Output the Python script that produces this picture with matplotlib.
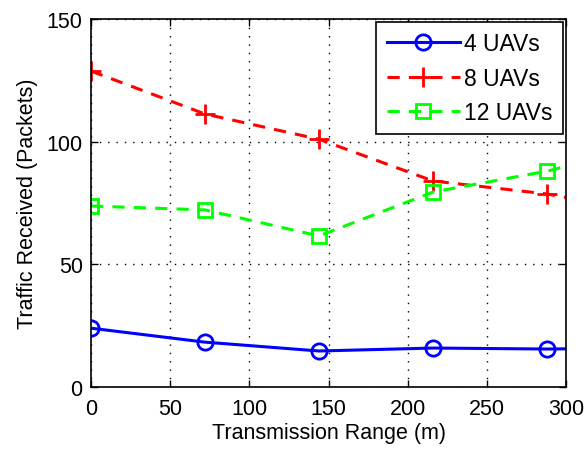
import numpy as np
import matplotlib

matplotlib.use("Agg")
import matplotlib.pyplot as plt

# ----------------------------------------------------------------------
# data
# ----------------------------------------------------------------------
tx_range = [0, 72, 144, 216, 288, 360]
uav4 = [24.0, 18.3, 14.7, 15.9, 15.5, 16.0]
uav8 = [128.8, 111.3, 101.0, 84.0, 78.7, 70.0]
uav12 = [73.8, 72.2, 61.6, 79.5, 88.0, 100.0]
labels = ["4 UAVs", "8 UAVs", "12 UAVs"]

plt.rcParams["font.family"] = ["Liberation Sans", "DejaVu Sans"]
plt.rcParams["font.size"] = 15.5

fig = plt.figure(figsize=(5.85, 4.56), dpi=100)
ax = fig.add_axes([0.1556, 0.149, 0.812, 0.807])

# markers only on the visible data points (last point is past the axis edge)
shown = [0, 1, 2, 3, 4]
ax.plot(tx_range, uav4, "-", color="b", marker="o", mfc="none",
        lw=2.2, ms=11, mew=2, markevery=shown, label=labels[0])
ax.plot(tx_range, uav8, "--", color="r", marker="+", ms=15, lw=2.2, mew=2,
        markevery=shown, dashes=(4, 3), label=labels[1])
ax.plot(tx_range, uav12, "--", color=(0, 1, 0), marker="s", mfc="none",
        dashes=(4, 3), ms=10, lw=2.2, mew=2, markevery=shown,
        label=labels[2])

ax.set_xlim(0, 300)
ax.set_ylim(0, 150)
ax.set_xticks(np.arange(0, 301, 50))
ax.set_yticks(np.arange(0, 151, 50))
ax.grid(True, color="k", ls=(0, (1, 5)), lw=1)
ax.tick_params(direction="in", top=True, right=True, length=5, width=1)
ax.tick_params(axis="x", pad=8)
ax.tick_params(axis="y", pad=6)
for s in ax.spines.values():
    s.set_linewidth(1.2)

ax.set_xlabel("Transmission Range (m)", labelpad=2)
ax.set_ylabel("Traffic Received (Packets)", labelpad=6)

leg = ax.legend(loc="upper right", fancybox=False, edgecolor="k",
                framealpha=1, handlelength=3.2, borderaxespad=0.12,
                labelspacing=0.5, handletextpad=0.2, borderpad=0.45,
                fontsize=16.5)
leg.get_frame().set_linewidth(1.2)

fig.savefig("out.png", dpi=100)
plt.close(fig)
